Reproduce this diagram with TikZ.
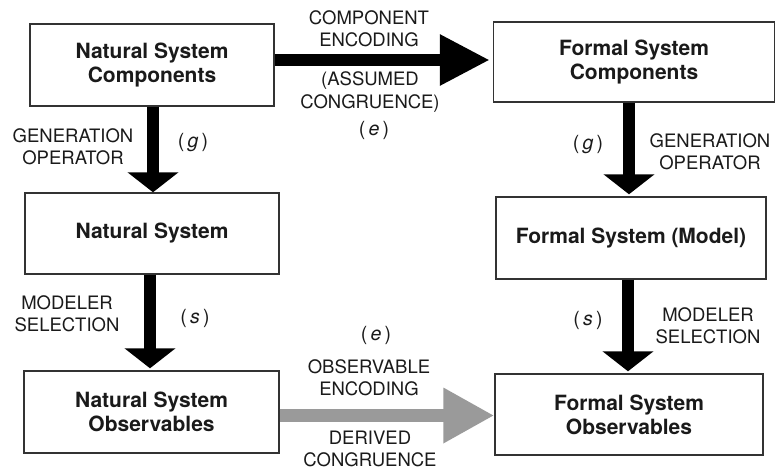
\documentclass[tikz,border=0pt]{standalone}
\usepackage{fontspec}
\setmainfont{TeX Gyre Heros}
\usetikzlibrary{arrows.meta}
\definecolor{boxline}{HTML}{333333}
\definecolor{txt}{HTML}{1A1A1A}
\definecolor{grayarrow}{HTML}{9A9A9A}
\begin{document}
\begin{tikzpicture}[x=1pt,y=-1pt,
  sysbox/.style={draw=boxline,line width=1.4pt,rectangle,inner sep=0pt,align=center,
    font=\fontsize{21}{24}\selectfont\bfseries,text=txt},
  lbl/.style={align=center,inner sep=0pt,font=\fontsize{18.5}{22.5}\selectfont,text=txt},
  sym/.style={inner sep=0pt,font=\fontsize{19.5}{22}\selectfont,text=txt},
  vflow/.style={line width=12pt,draw=black,-{Triangle[length=20pt,width=50pt]}},
  hflow/.style={line width=12pt,draw=black,-{Triangle[length=50pt,width=48pt]}},
  gflow/.style={line width=13pt,draw=grayarrow,-{Triangle[length=51pt,width=52pt]}}
]
\useasboundingbox (0,0) rectangle (777,469);
\fill[white] (0,0) rectangle (777,469);

\node[sysbox,minimum width=244pt,minimum height=82pt] (b1) at (152,65) {Natural System\\Components};
\node[sysbox,minimum width=254pt,minimum height=81pt] (b2) at (152,233.5) {Natural System};
\node[sysbox,minimum width=255pt,minimum height=82pt] (b3) at (151.5,412) {Natural System\\Observables};
\node[sysbox,minimum width=281pt,minimum height=80pt] (b4) at (634,62) {Formal System\\Components};
\node[sysbox,minimum width=270pt,minimum height=82pt] (b5) at (631,238) {Formal System (Model)};
\node[sysbox,minimum width=268pt,minimum height=81pt] (b6) at (629,414.5) {Formal System\\Observables};

% connectors
\draw[vflow] ([xshift=1pt]b1.south) -- ([xshift=1pt]b1.south |- b2.north);
\draw[vflow] ([xshift=-2pt]b2.south) -- ([xshift=-2pt,yshift=2pt]b2.south |- b3.north);
\draw[vflow] ([xshift=-5pt]b4.south) -- ([xshift=-5pt,yshift=2pt]b4.south |- b5.north);
\draw[vflow] ([xshift=-3pt]b5.south) -- ([xshift=-3pt,yshift=2pt]b5.south |- b6.north);
\draw[hflow] ([yshift=5pt]b1.east) -- ([yshift=5pt,xshift=-3pt]b1.east -| b4.west);
\draw[gflow] ([yshift=-3.5pt]b3.east) -- ([yshift=-3.5pt]b3.east -| b6.west);

% labels
\node[lbl] (l1) at (369,29) {COMPONENT\\ENCODING};
\node[lbl] (l2) at (370,92) {(ASSUMED\\CONGRUENCE)};
\node[sym] (e1) at (374,130) {(\,\textit{e}\,)};
\node[lbl] (l3) at (73,147) {GENERATION\\OPERATOR};
\node[sym] (g1) at (193,143) {(\,\textit{g}\,)};
\node[sym] (g2) at (588,145) {(\,\textit{g}\,)};
\node[lbl] (l4) at (710,152) {GENERATION\\OPERATOR};
\node[lbl] (l5) at (67,314) {MODELER\\SELECTION};
\node[sym] (s1) at (195,318) {(\,\textit{s}\,)};
\node[sym] (s2) at (588,320) {(\,\textit{s}\,)};
\node[lbl] (l6) at (708,326) {MODELER\\SELECTION};
\node[sym] (e2) at (376,335) {(\,\textit{e}\,)};
\node[lbl] (l7) at (369,378) {OBSERVABLE\\ENCODING};
\node[lbl] (l8) at (370,449) {DERIVED\\CONGRUENCE};
\end{tikzpicture}
\end{document}
